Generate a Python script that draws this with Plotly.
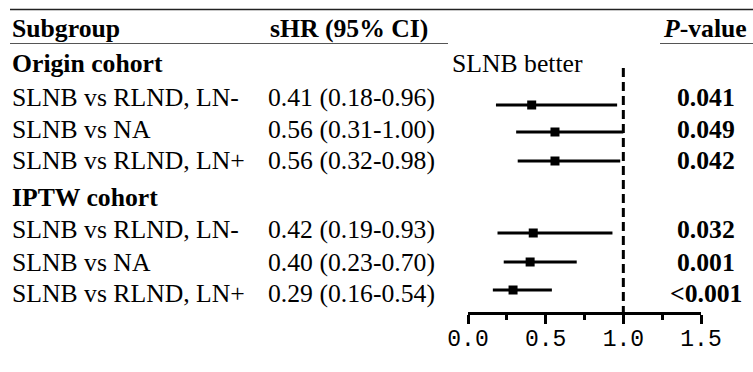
import plotly.graph_objects as go

# ---------------- data ----------------
cohorts = ["Origin cohort", "IPTW cohort"]
subgroups = ["SLNB vs RLND, LN-", "SLNB vs NA", "SLNB vs RLND, LN+",
             "SLNB vs RLND, LN-", "SLNB vs NA", "SLNB vs RLND, LN+"]
hr = [0.41, 0.56, 0.56, 0.42, 0.40, 0.29]
ci_lower = [0.18, 0.31, 0.32, 0.19, 0.23, 0.16]
ci_upper = [0.96, 1.00, 0.98, 0.93, 0.70, 0.54]
p_values = ["0.041", "0.049", "0.042", "0.032", "0.001", "<0.001"]
tick_values = [0, 0.5, 1.0, 1.5]
tick_labels = ["0.0", "0.5", "1.0", "1.5"]
minor_tick_values = [0.25, 0.75, 1.25]
reference_line = 1.0

# ---------------- layout constants (pixel rows) ----------------
W, H = 753, 372
AXIS_Y = 312
header_y = 28
cohort_y = [63, 197]
text_y = [97, 129, 160, 229, 262, 293]
mark_y = [105, 132, 161, 233, 262, 290]
SERIF = "Liberation Serif"
FS = 25.7


def px(x):
    return x / W


fig = go.Figure()

fig.add_trace(go.Scatter(
    x=hr, y=mark_y, mode="markers",
    marker=dict(symbol="square", size=9, color="black"),
    error_x=dict(type="data", symmetric=False,
                 array=[u - h for u, h in zip(ci_upper, hr)],
                 arrayminus=[h - l for h, l in zip(hr, ci_lower)],
                 color="black", thickness=2.8, width=0),
    showlegend=False, hoverinfo="skip", cliponaxis=False,
))

ann = []


def add_text(x, y, text, anchor="left", bold=False):
    ann.append(dict(x=px(x), y=y, xref="paper", yref="y", text=("<b>%s</b>" % text) if bold else text,
                    showarrow=False, xanchor=anchor, yanchor="middle", borderpad=0,
                    font=dict(family=SERIF, size=FS, color="black")))


# headers
add_text(11, header_y, "Subgroup", bold=True)
add_text(269, header_y, "sHR (95% CI)", bold=True)
add_text(705, header_y, "<i>P</i>-value", anchor="center", bold=True)
add_text(451, cohort_y[0], "SLNB better")

for c, y in zip(cohorts, cohort_y):
    add_text(11, y, c, bold=True)

for i in range(len(hr)):
    add_text(11, text_y[i], subgroups[i])
    add_text(267, text_y[i], "%.2f (%.2f-%.2f)" % (hr[i], ci_lower[i], ci_upper[i]))
    add_text(706, text_y[i], p_values[i], anchor="center", bold=True)

shapes = [
    dict(type="line", xref="paper", yref="y", x0=px(10), x1=1, y0=9.5, y1=9.5,
         line=dict(color="#222222", width=1.6)),
    dict(type="line", xref="paper", yref="y", x0=px(10), x1=px(448), y0=43.5, y1=43.5,
         line=dict(color="#555555", width=1.2)),
    dict(type="line", xref="paper", yref="y", x0=px(660), x1=1, y0=43.5, y1=43.5,
         line=dict(color="#555555", width=1.2)),
    dict(type="line", xref="x", yref="y", x0=reference_line, x1=reference_line, y0=68, y1=AXIS_Y,
         line=dict(color="black", width=3, dash="9px,5px")),
]

fig.update_layout(
    width=W, height=H,
    margin=dict(l=0, r=0, t=0, b=0, pad=0, autoexpand=False),
    paper_bgcolor="white", plot_bgcolor="white",
    font=dict(family=SERIF, color="black"),
    annotations=ann, shapes=shapes, showlegend=False,
    xaxis=dict(domain=[px(468), px(701)], range=[0, 1.5], automargin=False,
               showgrid=False, zeroline=False,
               showline=True, linecolor="black", linewidth=3,
               ticks="outside", ticklen=9, tickwidth=3, tickcolor="black",
               tickvals=tick_values, ticktext=tick_labels, ticklabelstandoff=-6,
               tickfont=dict(family="Liberation Mono", size=23, color="black"),
               minor=dict(tickvals=minor_tick_values, ticks="outside", ticklen=5,
                          tickwidth=3, tickcolor="black", showgrid=False),
               fixedrange=True),
    yaxis=dict(domain=[(H - AXIS_Y) / H, 1], range=[AXIS_Y, 0], visible=False,
               automargin=False, showgrid=False, zeroline=False, fixedrange=True),
)

fig.write_html("out.html")
